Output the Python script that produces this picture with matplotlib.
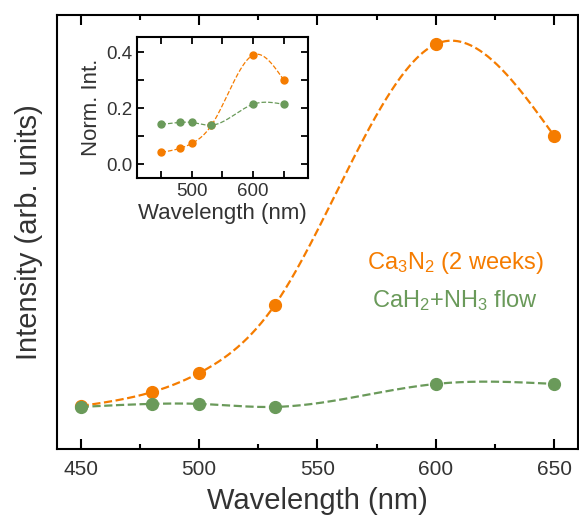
import matplotlib
matplotlib.use("Agg")
import matplotlib.pyplot as plt
from matplotlib.ticker import MultipleLocator
import numpy as np

plt.rcParams['font.family'] = ['Liberation Sans', 'DejaVu Sans']
plt.rcParams['mathtext.fontset'] = 'custom'
plt.rcParams['mathtext.rm'] = 'Liberation Sans'
plt.rcParams['mathtext.default'] = 'regular'

# data
wavelength = [450, 480, 500, 532, 600, 650]
ca3n2 = [0.099, 0.131, 0.175, 0.332, 0.933, 0.721]      # main panel, arb. units
cah2_nh3 = [0.097, 0.104, 0.104, 0.097, 0.150, 0.150]
ca3n2_norm = [0.042, 0.056, 0.074, 0.139, 0.390, 0.302]  # inset, normalized
cah2_nh3_norm = [0.142, 0.149, 0.149, 0.139, 0.214, 0.214]

orange = '#F57C00'
green = '#6A9A5A'
grey = '#333333'


def smooth(x, y, n=300):
    # natural cubic spline through the points, just for drawing the line
    x = np.asarray(x, float)
    y = np.asarray(y, float)
    k = len(x)
    h = np.diff(x)
    A = np.zeros((k, k))
    b = np.zeros(k)
    A[0, 0] = A[-1, -1] = 1
    for i in range(1, k - 1):
        A[i, i - 1] = h[i - 1]
        A[i, i] = 2 * (h[i - 1] + h[i])
        A[i, i + 1] = h[i]
        b[i] = 6 * ((y[i + 1] - y[i]) / h[i] - (y[i] - y[i - 1]) / h[i - 1])
    m = np.linalg.solve(A, b)
    xs = np.linspace(x[0], x[-1], n)
    idx = np.clip(np.searchsorted(x, xs) - 1, 0, k - 2)
    t0 = x[idx]
    t1 = x[idx + 1]
    hh = h[idx]
    ys = (m[idx] * (t1 - xs) ** 3 / (6 * hh) + m[idx + 1] * (xs - t0) ** 3 / (6 * hh)
          + (y[idx] / hh - m[idx] * hh / 6) * (t1 - xs)
          + (y[idx + 1] / hh - m[idx + 1] * hh / 6) * (xs - t0))
    return xs, ys


fig = plt.figure(figsize=(5.79, 5.24), dpi=100)
ax = fig.add_axes([0.0984, 0.1431, 0.8999, 0.8282])

for yv, c in [(ca3n2, orange), (cah2_nh3, green)]:
    xs, ys = smooth(wavelength, yv)
    ax.plot(xs, ys, '--', color=c, lw=1.6)
    ax.plot(wavelength, yv, 'o', color=c, ms=8.5)

ax.set_xlim(440, 660)
ax.set_ylim(0, 1)
ax.xaxis.set_major_locator(MultipleLocator(50))
ax.xaxis.set_minor_locator(MultipleLocator(25))
ax.set_yticks([])
ax.tick_params(axis='x', which='both', direction='in', top=True, width=1.5,
               labelsize=15, labelcolor=grey, pad=8)
ax.tick_params(axis='x', which='major', length=7)
ax.tick_params(axis='x', which='minor', length=3.5)
for s in ax.spines.values():
    s.set_linewidth(1.5)
ax.set_xlabel('Wavelength (nm)', fontsize=21, color=grey, labelpad=6)
ax.set_ylabel('Intensity (arb. units)', fontsize=21, color=grey, labelpad=10)

ax.text(0.764, 0.4286, 'Ca$_3$N$_2$ (2 weeks)', color=orange, fontsize=17,
        ha='center', va='center', transform=ax.transAxes)
ax.text(0.764, 0.343, 'CaH$_2$+NH$_3$ flow', color=green, fontsize=17,
        ha='center', va='center', transform=ax.transAxes)

# inset
ins = fig.add_axes([0.2366, 0.6603, 0.2953, 0.2691])
for yv, c in [(ca3n2_norm, orange), (cah2_nh3_norm, green)]:
    xs, ys = smooth(wavelength, yv)
    ins.plot(xs, ys, '--', color=c, lw=0.9)
    ins.plot(wavelength, yv, 'o', color=c, ms=5)

ins.set_xlim(410, 690)
ins.set_ylim(-0.05, 0.455)
ins.xaxis.set_major_locator(MultipleLocator(100))
ins.xaxis.set_minor_locator(MultipleLocator(50))
ins.yaxis.set_major_locator(MultipleLocator(0.2))
ins.yaxis.set_minor_locator(MultipleLocator(0.1))
ins.tick_params(which='both', direction='in', top=True, right=True, width=1.3,
                length=5, labelsize=13.5, labelcolor=grey)
for s in ins.spines.values():
    s.set_linewidth(1.5)
ins.set_xlabel('Wavelength (nm)', fontsize=16, color=grey, labelpad=2)
ins.set_ylabel('Norm. Int.', fontsize=16, color=grey, labelpad=3)

fig.savefig('out.png', dpi=100)
